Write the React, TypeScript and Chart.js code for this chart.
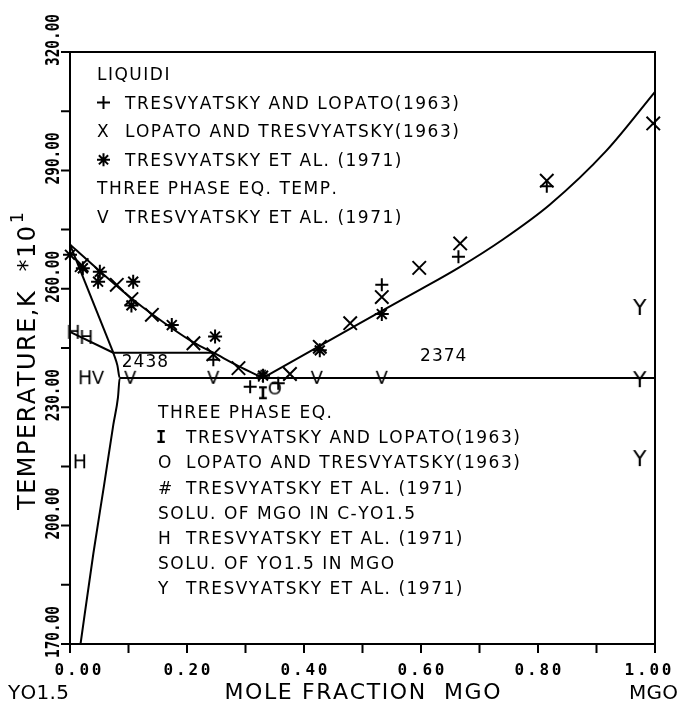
import React, { useEffect, useRef } from 'react';
import { Chart, registerables } from 'chart.js';
Chart.register(...registerables);

type P = { x: number; y: number };

// ---- axes ----
const xTicks = [0, 0.1, 0.2, 0.3, 0.4, 0.5, 0.6, 0.7, 0.8, 0.9, 1.0];
const xTickLabelValues = [0, 0.2, 0.4, 0.6, 0.8, 1.0];
const xTickLabels = ['0.00', '0.20', '0.40', '0.60', '0.80', '1.00'];
const yTicks = [170, 185, 200, 215, 230, 245, 260, 275, 290, 305, 320];
const yTickLabelValues = [170, 200, 230, 260, 290, 320];
const yTickLabels = ['170.00', '200.00', '230.00', '260.00', '290.00', '320.00'];

// ---- phase boundaries (T in K/10) ----
const liquidusLeft: P[] = [
  { x: 0.0, y: 271.2 }, { x: 0.05, y: 264.6 }, { x: 0.105, y: 257.6 }, { x: 0.14, y: 253.6 },
  { x: 0.211, y: 246.4 }, { x: 0.245, y: 243.8 }, { x: 0.288, y: 240.4 }, { x: 0.33, y: 237.4 },
];
const liquidusRight: P[] = [
  { x: 0.33, y: 237.4 }, { x: 0.48, y: 250.0 }, { x: 0.54, y: 255.0 }, { x: 0.6, y: 259.9 },
  { x: 0.664, y: 265.3 }, { x: 0.74, y: 272.5 }, { x: 0.82, y: 281.3 }, { x: 0.917, y: 295.0 },
  { x: 1.0, y: 309.9 },
];
const eutecticLine: P[] = [{ x: 0.085, y: 237.4 }, { x: 1.0, y: 237.4 }];
const line2438: P[] = [{ x: 0.074, y: 243.8 }, { x: 0.245, y: 243.8 }];
const hBoundary: P[] = [{ x: 0.0, y: 249.1 }, { x: 0.074, y: 243.8 }];
const solidusH: P[] = [{ x: 0.0, y: 271.2 }, { x: 0.074, y: 243.8 }];
const solvusC: P[] = [
  { x: 0.074, y: 243.8 }, { x: 0.081, y: 240.6 }, { x: 0.085, y: 237.4 }, { x: 0.082, y: 232.5 },
  { x: 0.074, y: 225.5 }, { x: 0.058, y: 210.0 }, { x: 0.04, y: 193.0 }, { x: 0.018, y: 170.0 },
];

// ---- experimental points ----
const plusLiq: P[] = [
  { x: 0.245, y: 242.0 }, { x: 0.308, y: 235.2 }, { x: 0.356, y: 236.1 }, { x: 0.533, y: 261.0 },
  { x: 0.664, y: 268.1 }, { x: 0.815, y: 286.0 },
];
const xLiq: P[] = [
  { x: 0.02, y: 266.0 }, { x: 0.08, y: 261.0 }, { x: 0.105, y: 257.4 }, { x: 0.14, y: 253.4 },
  { x: 0.211, y: 246.2 }, { x: 0.245, y: 243.4 }, { x: 0.288, y: 239.9 }, { x: 0.376, y: 238.4 },
  { x: 0.427, y: 245.3 }, { x: 0.479, y: 251.3 }, { x: 0.533, y: 257.9 }, { x: 0.597, y: 265.3 },
  { x: 0.667, y: 271.5 }, { x: 0.815, y: 287.4 }, { x: 0.997, y: 301.9 },
];
const starLiq: P[] = [
  { x: 0.0, y: 268.6 }, { x: 0.022, y: 265.2 }, { x: 0.051, y: 264.3 }, { x: 0.048, y: 261.8 },
  { x: 0.108, y: 261.8 }, { x: 0.105, y: 255.8 }, { x: 0.174, y: 250.8 }, { x: 0.248, y: 247.9 },
  { x: 0.33, y: 238.0 }, { x: 0.427, y: 244.4 }, { x: 0.533, y: 253.6 },
];
const vThree: P[] = [
  { x: 0.048, y: 237.7 }, { x: 0.103, y: 237.7 }, { x: 0.245, y: 237.7 }, { x: 0.422, y: 237.7 },
  { x: 0.533, y: 237.7 },
];
const iThree: P[] = [{ x: 0.33, y: 233.8 }];
const oThree: P[] = [{ x: 0.35, y: 235.0 }];
const hashThree: P[] = [{ x: 0.328, y: 238.0 }];
const hSolu: P[] = [
  { x: 0.006, y: 249.1 }, { x: 0.028, y: 247.8 }, { x: 0.026, y: 237.6 }, { x: 0.017, y: 216.3 },
];
const ySolu: P[] = [{ x: 0.974, y: 255.4 }, { x: 0.974, y: 237.1 }, { x: 0.974, y: 217.1 }];

// ---- texts ----
const topLegend: [string, string][] = [
  ['', 'LIQUIDI'],
  ['+', 'TRESVYATSKY AND LOPATO(1963)'],
  ['X', 'LOPATO AND TRESVYATSKY(1963)'],
  ['*', 'TRESVYATSKY ET AL. (1971)'],
  ['', 'THREE PHASE EQ. TEMP.'],
  ['V', 'TRESVYATSKY ET AL. (1971)'],
];
const bottomLegend: [string, string][] = [
  ['', 'THREE PHASE EQ.'],
  ['I', 'TRESVYATSKY AND LOPATO(1963)'],
  ['O', 'LOPATO AND TRESVYATSKY(1963)'],
  ['#', 'TRESVYATSKY ET AL. (1971)'],
  ['', 'SOLU. OF MGO IN C-YO1.5'],
  ['H', 'TRESVYATSKY ET AL. (1971)'],
  ['', 'SOLU. OF YO1.5 IN MGO'],
  ['Y', 'TRESVYATSKY ET AL. (1971)'],
];
const tempLabels: { t: string; x: number; y: number }[] = [
  { t: '2438', x: 0.128, y: 241.7 },
  { t: '2374', x: 0.638, y: 243.2 },
];

const SANS = '"DejaVu Sans"';
const MONO = '"DejaVu Sans Mono"';

function spacedWidth(ctx: CanvasRenderingContext2D, s: string, sp: number) {
  let w = 0;
  for (const ch of s) w += ctx.measureText(ch).width;
  return w + sp * Math.max(0, s.length - 1);
}
function drawSpaced(ctx: CanvasRenderingContext2D, s: string, x: number, y: number, sp: number, align: 'left' | 'center' | 'right') {
  const w = spacedWidth(ctx, s, sp);
  let cx = align === 'left' ? x : align === 'center' ? x - w / 2 : x - w;
  ctx.textAlign = 'left';
  for (const ch of s) {
    ctx.fillText(ch, cx, y);
    cx += ctx.measureText(ch).width + sp;
  }
  return w;
}

function glyph(ch: string, font: string, size: number, w: number, h: number) {
  const c = document.createElement('canvas');
  c.width = w;
  c.height = h;
  const g = c.getContext('2d')!;
  g.fillStyle = '#000';
  g.font = font;
  g.textAlign = 'center';
  g.textBaseline = 'alphabetic';
  g.fillText(ch, w / 2, h / 2 + size * 0.365);
  return c;
}

function drawStar(ctx: CanvasRenderingContext2D, x: number, y: number, r: number) {
  ctx.beginPath();
  for (let i = 0; i < 4; i++) {
    const a = (i * Math.PI) / 4;
    ctx.moveTo(x - Math.cos(a) * r, y - Math.sin(a) * r);
    ctx.lineTo(x + Math.cos(a) * r, y + Math.sin(a) * r);
  }
  ctx.stroke();
}

export default function App() {
  const ref = useRef<HTMLCanvasElement | null>(null);

  useEffect(() => {
    const canvas = ref.current!;
    const gV = glyph('V', `18px ${SANS}`, 18, 20, 20);
    const gH = glyph('H', `19px ${SANS}`, 19, 20, 22);
    const gY = glyph('Y', `22px ${SANS}`, 22, 22, 24);
    const gI = glyph('I', `bold 18px ${MONO}`, 18, 16, 22);
    const gO = glyph('O', `18px ${SANS}`, 18, 18, 20);
    const gHash = glyph('#', `bold 16px ${SANS}`, 16, 16, 18);

    const lineDs = (data: P[], smooth = false) => ({
      type: 'line' as const,
      data,
      borderColor: '#000',
      borderWidth: 2,
      pointRadius: 0,
      fill: false,
      showLine: true,
      clip: false as const,
      cubicInterpolationMode: smooth ? ('monotone' as const) : ('default' as const),
      tension: 0,
    });
    const markDs = (data: P[], style: any, r: number) => ({
      type: 'scatter' as const,
      data,
      pointStyle: style,
      pointRadius: r,
      pointBorderWidth: 2,
      pointBorderColor: '#000',
      pointBackgroundColor: '#000',
      borderColor: '#000',
      showLine: false,
      clip: false as const,
    });

    const decor = {
      id: 'decor',
      afterDraw(chart: any) {
        const ctx: CanvasRenderingContext2D = chart.ctx;
        const a = chart.chartArea;
        const xs = chart.scales.x;
        const ys = chart.scales.y;
        ctx.save();
        ctx.strokeStyle = '#000';
        ctx.fillStyle = '#000';
        ctx.lineWidth = 2;
        ctx.strokeRect(a.left, a.top, a.right - a.left, a.bottom - a.top);
        ctx.beginPath();
        for (const v of xTicks) {
          const px = xs.getPixelForValue(v);
          ctx.moveTo(px, a.bottom);
          ctx.lineTo(px, a.bottom + 9);
        }
        for (const v of yTicks) {
          const py = ys.getPixelForValue(v);
          ctx.moveTo(a.left - 9, py);
          ctx.lineTo(a.left, py);
        }
        ctx.stroke();

        // x tick labels
        ctx.font = `bold 16px ${MONO}`;
        ctx.textBaseline = 'alphabetic';
        xTickLabelValues.forEach((v, i) => {
          let px = xs.getPixelForValue(v);
          if (i === 0) px += 8;
          if (i === xTickLabelValues.length - 1) px -= 7;
          drawSpaced(ctx, xTickLabels[i], px, a.bottom + 31, 2.8, 'center');
        });
        // y tick labels (rotated)
        ctx.font = `bold 20px ${MONO}`;
        yTickLabelValues.forEach((v, i) => {
          const py = ys.getPixelForValue(v);
          ctx.save();
          ctx.translate(a.left - 11, py - 12);
          ctx.rotate(-Math.PI / 2);
          ctx.scale(0.72, 1);
          ctx.textAlign = 'center';
          ctx.fillText(yTickLabels[i], 0, 0);
          ctx.restore();
        });

        // axis titles
        ctx.font = `22px ${SANS}`;
        drawSpaced(ctx, 'MOLE FRACTION  MGO', (a.left + a.right) / 2, 699, 1.6, 'center');
        ctx.font = `20px ${SANS}`;
        drawSpaced(ctx, 'YO1.5', 8, 699, 0.3, 'left');
        drawSpaced(ctx, 'MGO', 678, 699, 0.3, 'right');

        ctx.save();
        ctx.translate(35, 510);
        ctx.rotate(-Math.PI / 2);
        ctx.font = `24px ${SANS}`;
        const w = drawSpaced(ctx, 'TEMPERATURE,K  *10', 0, 0, 1.5, 'left');
        ctx.font = `17px ${SANS}`;
        ctx.fillText('1', w + 3, -12);
        ctx.restore();

        // legends
        ctx.font = `17px ${SANS}`;
        const drawLegend = (rows: [string, string][], x0: number, xt: number, y0: number, dy: number) => {
          rows.forEach(([sym, txt], i) => {
            const cy = y0 + i * dy;
            const base = cy + 6;
            if (!sym) {
              drawSpaced(ctx, txt, x0, base, 1.5, 'left');
              return;
            }
            if (sym === '+') {
              ctx.beginPath();
              ctx.moveTo(x0, cy); ctx.lineTo(x0 + 13, cy);
              ctx.moveTo(x0 + 6.5, cy - 6.5); ctx.lineTo(x0 + 6.5, cy + 6.5);
              ctx.stroke();
            } else if (sym === '*') {
              drawStar(ctx, x0 + 6.5, cy, 6.5);
            } else if (sym === 'I') {
              ctx.save();
              ctx.font = `bold 17px ${MONO}`;
              ctx.fillText('I', x0 - 2, base);
              ctx.restore();
            } else {
              ctx.fillText(sym, x0, base);
            }
            drawSpaced(ctx, txt, xt, base, 1.5, 'left');
          });
        };
        drawLegend(topLegend, 97, 125, 74, 28.6);
        drawLegend(bottomLegend, 158, 186, 412, 25.2);

        // temperature labels
        ctx.font = `17px ${SANS}`;
        for (const t of tempLabels) {
          drawSpaced(ctx, t.t, xs.getPixelForValue(t.x), ys.getPixelForValue(t.y) + 6, 1, 'center');
        }
        ctx.restore();
      },
    };

    const chart = new Chart(canvas, {
      type: 'scatter',
      data: {
        datasets: [
          lineDs(liquidusLeft, true),
          lineDs(liquidusRight, true),
          lineDs(eutecticLine),
          lineDs(line2438),
          lineDs(hBoundary),
          lineDs(solidusH),
          lineDs(solvusC, true),
          markDs(plusLiq, 'cross', 6.5),
          markDs(xLiq, 'crossRot', 9.5),
          markDs(starLiq, 'star', 7),
          markDs(vThree, gV, 10),
          markDs(iThree, gI, 10),
          markDs(oThree, gO, 10),
          markDs(hashThree, gHash, 9),
          markDs(hSolu, gH, 10),
          markDs(ySolu, gY, 11),
        ] as any,
      },
      options: {
        responsive: false,
        animation: false,
        devicePixelRatio: 1,
        layout: { padding: { left: 70, right: 25, top: 52, bottom: 64 } },
        plugins: { legend: { display: false }, tooltip: { enabled: false } },
        scales: {
          x: { type: 'linear', min: 0, max: 1, display: false },
          y: { type: 'linear', min: 170, max: 320, display: false },
        },
      },
      plugins: [decor],
    });
    return () => chart.destroy();
  }, []);

  return (
    <div style={{ position: 'fixed', left: 0, top: 0, width: 680, height: 708, background: '#fff' }}>
      <canvas ref={ref} width={680} height={708} style={{ display: 'block', width: 680, height: 708 }} />
    </div>
  );
}
